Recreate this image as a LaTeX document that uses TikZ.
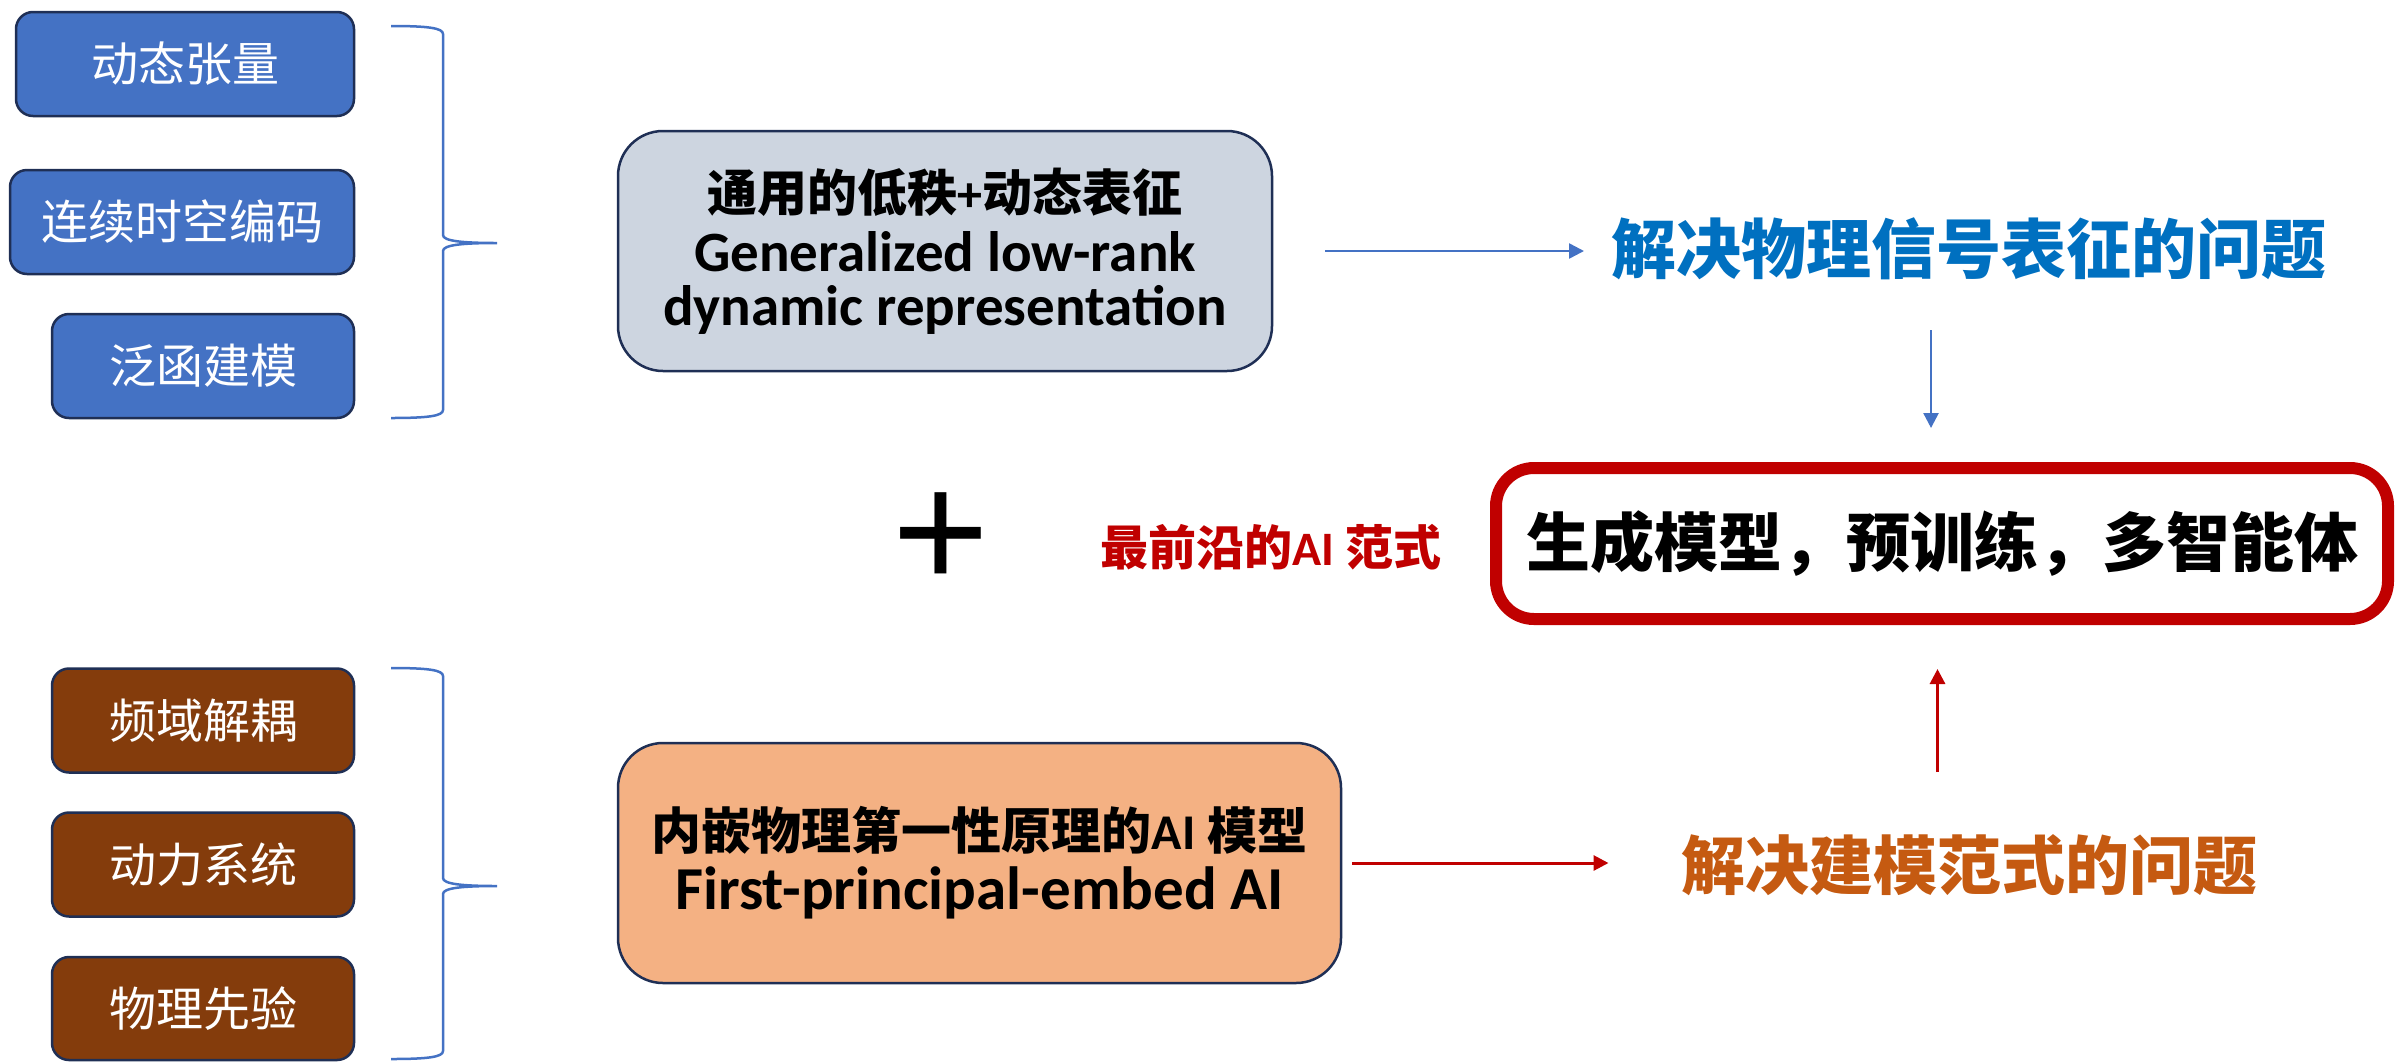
\documentclass[tikz,border=0pt]{standalone}
\usepackage{fontspec}
\newfontfamily\cjk{Noto Sans CJK SC}
\newfontfamily\en{Carlito}
\newfontfamily\plusfont{Liberation Sans}
\usetikzlibrary{arrows.meta}
\definecolor{boxblue}{HTML}{4472C4}
\definecolor{boxbrown}{HTML}{843C0C}
\definecolor{navy}{HTML}{1F2F55}
\definecolor{grayfill}{HTML}{CDD5E0}
\definecolor{orangefill}{HTML}{F4B183}
\definecolor{titleblue}{HTML}{0070C0}
\definecolor{titleorange}{HTML}{C55A11}
\definecolor{darkred}{HTML}{C00000}
\newcommand\mybrace[3]{%
  \draw[boxblue, line width=2.5pt]
    (391,#1) .. controls (428,#1) and (443,{#1+2}) .. (443,{#1+8})
    -- (443,{#2-8}) .. controls (443,{#2-2}) and (462,#2) .. (497,#2)
    .. controls (462,#2) and (443,{#2+2}) .. (443,{#2+8})
    -- (443,{#3-8}) .. controls (443,{#3-2}) and (428,#3) .. (391,#3);}
\begin{document}
\begin{tikzpicture}[x=1pt,y=-1pt,
  smallbox/.style={draw=navy, line width=2.5pt, rounded corners=17pt,
    minimum height=104pt, inner sep=0pt, text=white,
    text height=41pt, text depth=6pt,
    font=\cjk\fontsize{47}{47}\selectfont},
  bluebox/.style={smallbox, fill=boxblue},
  brownbox/.style={smallbox, fill=boxbrown},
  bigbox/.style={draw=navy, line width=2.5pt, rounded corners=45pt,
    inner sep=0pt, align=center, text=black},
  barrow/.style={draw=boxblue, line width=2.5pt, -{Triangle[length=15pt,width=15pt]}},
  rarrow/.style={draw=darkred, line width=3pt, -{Triangle[length=15pt,width=15pt]}},
  title/.style={inner sep=0pt}
]
\useasboundingbox (0,0) rectangle (2397,1061);

% left boxes, top group
\node[bluebox, minimum width=338pt] (a1) at (185,64) {动态张量};
\node[bluebox, minimum width=344pt] (a2) at (182,222) {连续时空编码};
\node[bluebox, minimum width=302pt] (a3) at (203,366) {泛函建模};
% left boxes, bottom group
\node[brownbox, minimum width=302pt] (b1) at (203,720.5) {频域解耦};
\node[brownbox, minimum width=302pt] (b2) at (203,864.5) {动力系统};
\node[brownbox, minimum width=302pt, minimum height=103pt] (b3) at (203,1008.5) {物理先验};

% braces
\mybrace{26}{243}{418}
\mybrace{668}{886}{1059}

% middle boxes
\node[bigbox, fill=grayfill, minimum width=654pt, minimum height=240pt,
  font=\en\bfseries\fontsize{57}{54}\selectfont] (g) at (945,251)
  {{\cjk\bfseries\fontsize{50}{54}\selectfont 通用的低秩{\en\bfseries +}动态表征}\\[6pt]
   Generalized low-rank\\ dynamic representation};
\node[bigbox, fill=orangefill, minimum width=723pt, minimum height=240pt,
  font=\en\bfseries\fontsize{61}{52}\selectfont] (ob) at (979.5,863)
  {{\cjk\bfseries\fontsize{50}{52}\selectfont 内嵌物理第一性原理的{\en\bfseries AI} 模型}\\[8pt]
   First-principal-embed AI};

% plus and red label
\node[title, font=\plusfont\fontsize{166}{166}\selectfont] (plus) at (941,541) {+};
\node[title, text=darkred, font=\cjk\bfseries\fontsize{48}{48}\selectfont] (fr) at (1271,547)
  {最前沿的{\en\bfseries AI} 范式};

% red box
\node[draw=darkred, line width=12pt, rounded corners=38pt, fill=white,
  minimum width=892pt, minimum height=151pt, inner sep=0pt,
  font=\cjk\bfseries\fontsize{64}{64}\selectfont] (rb) at (1942,543.5)
  {生成模型，预训练，多智能体};

% titles on the right
\node[title, text=titleblue, text height=57pt, text depth=8pt,
  font=\cjk\bfseries\fontsize{65}{65}\selectfont] (bt) at (1969,249)
  {解决物理信号表征的问题};
\node[title, text=titleorange, text height=56.3pt, text depth=7.7pt,
  font=\cjk\bfseries\fontsize{64}{64}\selectfont] (ot) at (1969.5,865)
  {解决建模范式的问题};

% arrows
\draw[barrow, shorten <=52pt, shorten >=385pt] (g.east) -- (g.east -| bt.center);
\draw[barrow, shorten <=81pt, shorten >=34pt] ([xshift=-38pt]bt.center) -- ([xshift=-38pt]bt.center |- rb.north);
\draw[rarrow, shorten <=93pt, shorten >=44pt] ([xshift=-32pt]ot.center) -- ([xshift=-32pt]ot.center |- rb.south);
\draw[rarrow, shorten <=10pt, shorten >=361pt] (ob.east) -- (ob.east -| ot.center);
\end{tikzpicture}
\end{document}
